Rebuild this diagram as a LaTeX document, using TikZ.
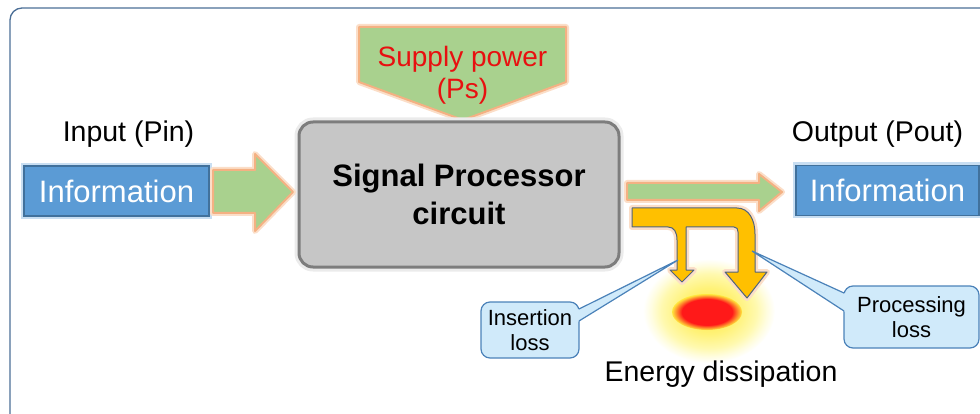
\documentclass[tikz,border=0pt]{standalone}
\usepackage{fontspec}
\setmainfont{Liberation Sans}
\definecolor{framec}{RGB}{75,110,150}
\definecolor{grn}{RGB}{169,209,142}
\definecolor{orl}{RGB}{244,177,131}
\definecolor{orlglow}{RGB}{251,222,200}
\definecolor{orangefill}{RGB}{255,192,0}
\definecolor{orangeline}{RGB}{80,100,125}
\definecolor{bluefill}{RGB}{91,155,213}
\definecolor{blueline}{RGB}{65,113,156}
\definecolor{blueglow}{RGB}{200,222,242}
\definecolor{callfill}{RGB}{208,234,250}
\definecolor{callline}{RGB}{75,130,185}
\definecolor{procfill}{RGB}{198,198,198}
\definecolor{procline}{RGB}{125,125,125}
\definecolor{supred}{RGB}{232,16,16}
\definecolor{glowA}{RGB}{255,232,60}
\definecolor{glowB}{RGB}{255,242,120}
\definecolor{glowC}{RGB}{255,249,175}
\definecolor{glowD}{RGB}{255,253,225}
\definecolor{hotred}{RGB}{255,25,25}
\pgfdeclareradialshading{heatglow}{\pgfpoint{0bp}{0bp}}{color(0bp)=(glowA); color(11bp)=(glowB); color(18bp)=(glowC); color(22bp)=(glowD); color(25bp)=(white); color(50bp)=(white)}
\pgfdeclareradialshading{redblob}{\pgfpoint{0bp}{0bp}}{color(0bp)=(hotred); color(18bp)=(hotred); color(25bp)=(glowA); color(50bp)=(glowA)}
\begin{document}
\begin{tikzpicture}[x=1pt,y=-1pt,
  greenshape/.style={fill=grn, draw=orl, line width=2pt, line join=round, preaction={draw=orlglow, line width=6pt, line join=round}},
  orangeshape/.style={fill=orangefill, draw=orangeline, line width=1pt, line join=round, preaction={draw=orlglow, line width=6pt, line join=round}},
  infobox/.style={rectangle, fill=bluefill, draw=blueline, line width=1.5pt, text=white, inner sep=0pt, minimum height=50pt, font=\fontsize{31}{36}\selectfont, preaction={draw=blueglow, line width=6pt}},
  lbl/.style={font=\fontsize{28.5}{33}\selectfont, inner sep=0pt},
  callbox/.style={rectangle, rounded corners=9pt, fill=callfill, draw=callline, line width=1.2pt, align=center, inner sep=0pt, font=\fontsize{22}{25.5}\selectfont},
  procbox/.style={rectangle, rounded corners=14pt, fill=procfill, draw=procline, line width=3pt, align=center, inner sep=0pt, minimum width=320pt, minimum height=145pt, font=\bfseries\fontsize{31}{38}\selectfont, preaction={draw=black!8, line width=9pt}}
]
\useasboundingbox (0,0) rectangle (980,414);
\clip (0,0) rectangle (980,414);
% outer frame
\draw[framec, line width=1.3pt, rounded corners=12pt] (10,8) rectangle (1010,440);

% supply power
\draw[greenshape] (359,27) -- (566,27) -- (566,82) -- (463,120) -- (359,82) -- cycle;
\node[font=\fontsize{28}{32.3}\selectfont, text=supred, align=center, inner sep=0pt] (supply) at (462.5,75.6) {Supply power\\(Ps)};

% processor
\node[procbox] (proc) at (459,194.5) {Signal Processor\\circuit};

% input
\node[lbl, anchor=base] (inlbl) at (128.5,141.7) {Input (Pin)};
\node[infobox, minimum width=185pt] (inbox) at (116.5,191) {Information};
\draw[greenshape] (213,170) -- (255,170) -- (255,154) -- (293,192) -- (255,231) -- (255,213) -- (213,213) -- cycle;

% output
\node[lbl, anchor=base] (outlbl) at (877.5,141.7) {Output (Pout)};
\node[infobox, minimum width=183pt] (outbox) at (887.5,190.5) {Information};
\draw[greenshape] (627,183) -- (759,183) -- (759,174) -- (782,192) -- (759,211) -- (759,200) -- (627,200) -- cycle;

% heat glow
\shade[shading=heatglow] (709,311) ellipse [x radius=66, y radius=52];
\shade[shading=redblob] (707,312) ellipse [x radius=35, y radius=18];

% bent orange arrow with branch
\draw[orangeshape] (632,208) -- (737,208) .. controls (749,208) and (755,220) .. (755,234)
  -- (755,272) -- (767,272) -- (747,298) -- (725,272) -- (738,272) -- (738,232)
  .. controls (738,229) and (737,227) .. (734,227) -- (686,227) -- (686,270) -- (694,270)
  -- (682,282) -- (670,270) -- (677,270) -- (677,240) .. controls (677,232) and (674,227) .. (668,227)
  -- (632,227) -- cycle;

% callouts
\coordinate (insTip) at (678,260);
\coordinate (proTip) at (752,251);
\node[callbox, minimum width=98pt, minimum height=56pt] (ins) at (530,330) {Insertion\\loss};
\fill[callfill] (576,310.5) -- (insTip) -- (576,322.8) -- cycle;
\draw[callline, line width=1.2pt, line join=miter] (579,309) -- (insTip) -- (579,321);

\node[callbox, minimum width=135pt, minimum height=62pt] (pro) at (911.5,317) {Processing\\loss};
\fill[callfill] (847,294.4) -- (proTip) -- (847,313) -- cycle;
\draw[callline, line width=1.2pt, line join=miter] (844,293) -- (proTip) -- (844,311);

% energy dissipation
\node[lbl, anchor=base] (energy) at (721,381) {Energy dissipation};
\end{tikzpicture}
\end{document}
